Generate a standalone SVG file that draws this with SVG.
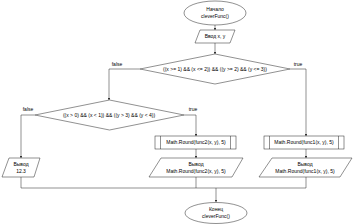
<svg xmlns="http://www.w3.org/2000/svg" width="354" height="224" viewBox="0 0 354 224">
<defs>
<marker id="ah" viewBox="0 0 6 6" refX="6" refY="3" markerWidth="4" markerHeight="4" orient="auto">
<path d="M0,0 L6,3 L0,6 Z" fill="#000"/>
</marker>
<style>
.s{fill:#fff;stroke:#222;stroke-width:0.5}
.c{fill:none;stroke:#222;stroke-width:0.5}
.a{marker-end:url(#ah)}
text{font-family:"Liberation Sans",Arial,sans-serif;font-size:5px;fill:#000;text-anchor:middle}
</style>
</defs>
<rect width="354" height="224" fill="#fff"/>
<g id="connectors">
<path class="c a" d="M215,25 V30"/>
<path class="c a" d="M215,43 V54"/>
<path class="c a" d="M140,69 H109 V100"/>
<path class="c a" d="M290,69 H306 V136"/>
<path class="c a" d="M35,115 H21 V158"/>
<path class="c a" d="M184,115 H196 V136"/>
<path class="c a" d="M196,149 V158"/>
<path class="c a" d="M306,149 V158"/>
<path class="c" d="M21,177 V188 H306 V177"/>
<path class="c" d="M196,177 V188"/>
<path class="c a" d="M216,188 V202"/>
<text x="117" y="66">false</text>
<text x="298" y="66">true</text>
<text x="28" y="111">false</text>
<text x="193" y="111">true</text>
</g>
<g id="start">
<ellipse class="s" cx="215" cy="13" rx="31" ry="12"/>
<text x="215" y="11">Начало</text>
<text x="215" y="18">cleverFunc()</text>
</g>
<g id="input">
<path class="s" d="M200,30 H235 L230,43 H195 Z"/>
<text x="215" y="38">Ввод x, y</text>
</g>
<g id="cond1">
<path class="s" d="M215,54 L290,69 L215,84 L140,69 Z"/>
<text x="215" y="71">((x &gt;= 1) &amp;&amp; (x &lt;= 2)) &amp;&amp; ((y &gt;= 2) &amp;&amp; (y &lt;= 3))</text>
</g>
<g id="cond2">
<path class="s" d="M109.5,100 L184,115 L109.5,130 L35,115 Z"/>
<text x="109" y="117">((x &gt; 0) &amp;&amp; (x &lt; 1)) &amp;&amp; ((y &gt; 3) &amp;&amp; (y &lt; 4))</text>
</g>
<g id="func2">
<rect class="s" x="155" y="136" width="81" height="13"/>
<path class="c" d="M160.5,136 V149 M230.5,136 V149"/>
<text x="196" y="144">Math.Round(func2(x, y), 5)</text>
</g>
<g id="func1">
<rect class="s" x="264" y="136" width="80" height="13"/>
<path class="c" d="M269.5,136 V149 M338.5,136 V149"/>
<text x="304" y="144">Math.Round(func1(x, y), 5)</text>
</g>
<g id="out2">
<path class="s" d="M161,158 H243 L232,177 H149 Z"/>
<text x="196" y="166">Вывод</text>
<text x="196" y="173">Math.Round(func2(x, y), 5)</text>
</g>
<g id="out1">
<path class="s" d="M272,158 H352 L340,177 H259 Z"/>
<text x="305" y="166">Вывод</text>
<text x="305" y="173">Math.Round(func1(x, y), 5)</text>
</g>
<g id="out3">
<path class="s" d="M9,158 H40 L34,177 H2 Z"/>
<text x="21" y="166">Вывод</text>
<text x="21" y="173">12.3</text>
</g>
<g id="end">
<ellipse class="s" cx="216" cy="213" rx="31" ry="10.5"/>
<text x="216" y="211">Конец</text>
<text x="216" y="218">cleverFunc()</text>
</g>
</svg>
